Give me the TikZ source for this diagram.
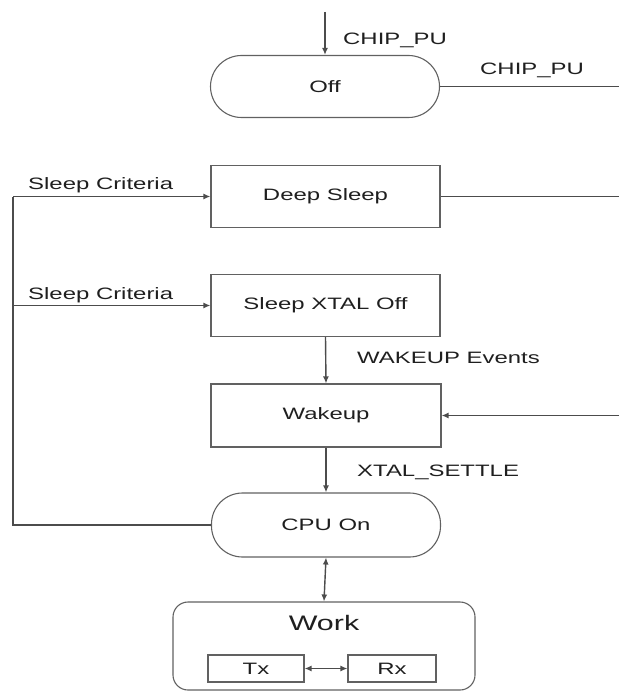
\documentclass[tikz,border=0pt]{standalone}
\usepackage{fontspec}
\setmainfont{Liberation Sans}[FakeStretch=1.45]
\usetikzlibrary{arrows.meta}
\begin{document}
\begin{tikzpicture}[x=1pt,y=-1pt,
  wire/.style={draw=black!70, line width=1.4pt},
  arr/.style={wire, -{Latex[length=7pt,width=6pt]}},
  dblarr/.style={wire, {Latex[length=7pt,width=6pt]}-{Latex[length=7pt,width=6pt]}},
  box/.style={draw=black!62, line width=1.1pt, minimum width=229pt, minimum height=62pt,
    inner sep=0pt, text=black!88, font=\fontsize{16.5}{18}\selectfont},
  pill/.style={box, rounded corners=31pt},
  small/.style={draw=black!62, line width=1.1pt, minimum height=27pt, inner sep=0pt,
    text=black!88, font=\fontsize{16.5}{18}\selectfont},
  lbl/.style={anchor=west, inner sep=0pt, text=black!88, font=\fontsize{16.5}{18}\selectfont}]
\useasboundingbox (0,0) rectangle (619,695);

% states
\node[pill] (off) at (325,86.5) {Off};
\node[box] (deep) at (325.5,196.5) {Deep Sleep};
\node[box] (xoff) at (325.5,305.5) {Sleep XTAL Off};
\node[box, minimum width=230pt, minimum height=63pt] (wake) at (326,415.5) {Wakeup};
\node[pill, minimum height=64pt] (cpu) at (326,525) {CPU On};

% work group
\node[draw=black!62, line width=1.1pt, rounded corners=15pt, minimum width=302pt,
  minimum height=88pt, inner sep=0pt] (work) at (324,646) {};
\node[inner sep=0pt, text=black!88, font=\fontsize{21}{23}\selectfont] (worklbl) at (324,623) {Work};
\node[small, minimum width=96pt] (tx) at (256,668.5) {Tx};
\node[small, minimum width=88pt] (rx) at (392,668.5) {Rx};

% free ends
\coordinate (top) at (325,12);
\coordinate (offR) at (619,86.5);
\coordinate (deepR) at (619,196.5);
\coordinate (wakeR) at (619,415.5);
\coordinate (lTop) at (13,196.5);
\coordinate (lMid) at (13,305.5);
\coordinate (lBot) at (13,525);

% connectors
\draw[arr] (top) -- (off.north);
\draw[wire] (off.east) -- (offR);
\draw[wire] (deep.east) -- (deepR);
\draw[arr] (wakeR) -- (wake.east);
\draw[arr] (xoff.south) -- (wake.north);
\draw[arr] (wake.south) -- (cpu.north);
\draw[wire] (cpu.west) -- (lBot) -- (lTop);
\draw[arr] (lTop) -- (deep.west);
\draw[arr] (lMid) -- (xoff.west);
\draw[dblarr] (cpu.south) -- (work.north);
\draw[dblarr] (tx.east) -- (rx.west);

% transition labels
\node[lbl] (l1) at (343,40) {CHIP\_PU};
\node[lbl] (l2) at (480,70) {CHIP\_PU};
\node[lbl] (l3) at (28,185) {Sleep Criteria};
\node[lbl] (l4) at (28,295) {Sleep Criteria};
\node[lbl] (l5) at (357,358) {WAKEUP Events};
\node[lbl] (l6) at (357,472) {XTAL\_SETTLE};
\end{tikzpicture}
\end{document}
